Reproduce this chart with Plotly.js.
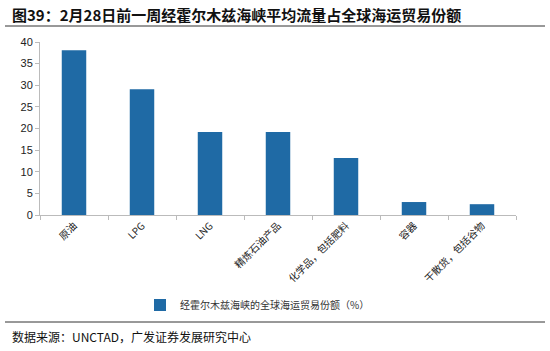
<!DOCTYPE html>
<html><head><meta charset="utf-8">
<script src="https://cdn.plot.ly/plotly-3.0.1.min.js"></script>
<style>body{margin:0;background:#fff}#c{width:550px;height:351px}</style>
</head><body><div id="c"></div>
<script>
const categories = ["原油","LPG","LNG","精炼石油产品","化学品，包括肥料","容器","干散货，包括谷物"];
const shares = [38.1, 29.1, 19.2, 19.2, 13.2, 3.0, 2.5];
const seriesName = "经霍尔木兹海峡的全球海运贸易份额（%）";
const yTicks = [0,5,10,15,20,25,30,35,40];

const F = '"Noto Sans CJK SC", "Liberation Sans", Arial, sans-serif';
const data = [{
  type: 'bar', x: categories, y: shares, name: seriesName,
  marker: {color: '#1f6aa5'}, showlegend: true
}];
const layout = {
  width: 550, height: 351,
  margin: {l: 40, r: 34, t: 42, b: 136},
  paper_bgcolor: '#fff', plot_bgcolor: '#fff',
  bargap: 0.64,
  font: {family: F, size: 11, color: '#222'},
  showlegend: true,
  legend: {orientation: 'h', x: (140-40)/476, xanchor: 'left', y: -0.52, yanchor: 'middle',
    font: {size: 10, color: '#333'}, itemwidth: 30},
  xaxis: {type: 'category', tickangle: -45, ticks: 'outside', tickson: 'boundaries',
    ticklen: 4, tickcolor: '#bbb', showline: true, linecolor: '#bbb', linewidth: 1,
    tickfont: {size: 10, color: '#222', family: F}},
  yaxis: {range: [0, 40], tickvals: yTicks, ticks: 'outside', ticklen: 4, tickcolor: '#bbb',
    showline: true, linecolor: '#bbb', showgrid: false, zeroline: false,
    tickfont: {size: 11, color: '#222', family: '"Liberation Sans", Arial, sans-serif'}},
  annotations: [
    {xref: 'paper', yref: 'paper', x: -30/476, y: 1 + (42-15)/173, xanchor: 'left', yanchor: 'middle',
     text: '<b>图39：2月28日前一周经霍尔木兹海峡平均流量占全球海运贸易份额</b>', showarrow: false,
     font: {size: 15, color: '#111', family: F}},
    {xref: 'paper', yref: 'paper', x: -30/476, y: -(336-215)/173, xanchor: 'left', yanchor: 'middle',
     text: '数据来源：UNCTAD，广发证券发展研究中心', showarrow: false,
     font: {size: 12, color: '#111', family: F}}
  ],
  shapes: [
    {type: 'line', xref: 'paper', yref: 'paper', x0: -35/476, x1: 505/476,
     y0: 1 + (42-26)/173, y1: 1 + (42-26)/173, line: {color: '#333', width: 1}},
    {type: 'line', xref: 'paper', yref: 'paper', x0: -35/476, x1: 505/476,
     y0: -(322-215)/173, y1: -(322-215)/173, line: {color: '#333', width: 1}}
  ]
};
Plotly.newPlot('c', data, layout, {displayModeBar: false, staticPlot: true});
</script></body></html>
